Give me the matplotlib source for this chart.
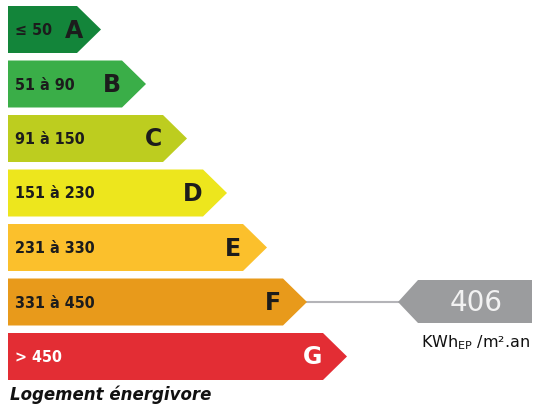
import matplotlib.pyplot as plt
from matplotlib.patches import Polygon

# Classes DPE et leurs plages (kWh/m².an)
classes = ['A', 'B', 'C', 'D', 'E', 'F', 'G']
plages = ['≤ 50', '51 à 90', '91 à 150', '151 à 230', '231 à 330', '331 à 450', '> 450']
couleurs = ['#13853a', '#3aae48', '#bdcd1f', '#ede61d', '#fbc02c', '#e89a1b', '#e32d34']
pointes = [101, 146, 187, 227, 267, 307, 347]   # bout de chaque flèche (px)
valeur = 406
classe_logement = 'F'

fig = plt.figure(figsize=(5.35, 4.05), dpi=100)
ax = fig.add_axes([0, 0, 1, 1])
ax.set_xlim(0, 535)
ax.set_ylim(405, 0)
ax.axis('off')

haut = 47
pas = 54.5
x0 = 8
prof = 24
for i, (c, p, col, xt) in enumerate(zip(classes, plages, couleurs, pointes)):
    y = 6 + i * pas
    fin = xt - prof
    ax.add_patch(Polygon([(x0, y), (fin, y), (xt, y + haut / 2), (fin, y + haut), (x0, y + haut)],
                         closed=True, facecolor=col, edgecolor='none'))
    txt_col = 'white' if c == 'G' else '#1c1c1c'
    ax.text(15, y + haut / 2 + 1, p, fontsize=11.5, fontweight='bold', color=txt_col,
            ha='left', va='center', fontstretch='condensed')
    xl = fin - 3 if i == 0 else fin - 10
    ax.text(xl, y + haut / 2 + 1, c, fontsize=17, fontweight='bold', color=txt_col,
            ha='center', va='center')

# Indicateur de la valeur du logement
i = classes.index(classe_logement)
yc = 6 + i * pas + haut / 2
xt_ind = 398
ax.plot([pointes[i], xt_ind], [yc, yc], color='#b4b4b8', lw=1.5, zorder=0)
ax.add_patch(Polygon([(xt_ind, yc), (xt_ind + 20, yc - 22), (532, yc - 22), (532, yc + 21),
                      (xt_ind + 20, yc + 21)], closed=True, facecolor='#9b9c9e', edgecolor='none'))
ax.text(476, yc + 1, str(valeur), fontsize=20, color='#f2f2f2', ha='center', va='center')
ax.text(476, 343, r'KWh$_{\mathregular{EP}}$ /m².an', fontsize=11.5, color='#111111',
        ha='center', va='center')

ax.text(10, 395, 'Logement énergivore', fontsize=12, fontweight='bold', fontstyle='italic',
        color='#111111', ha='left', va='center')

fig.savefig('out.png', dpi=100)
